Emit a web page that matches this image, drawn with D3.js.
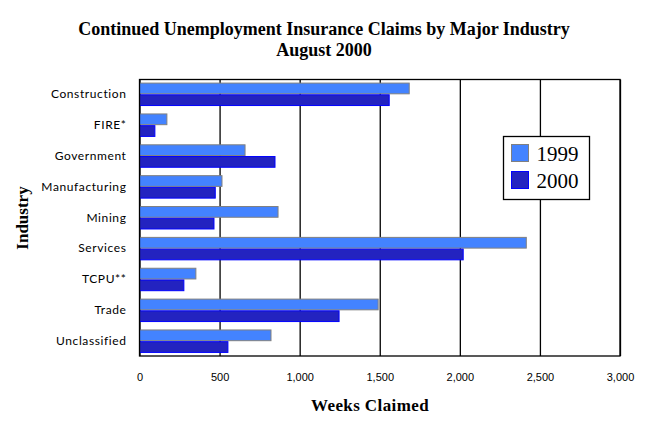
<!DOCTYPE html>
<html>
<head>
<meta charset="utf-8">
<script src="https://cdn.jsdelivr.net/npm/d3@7"></script>
<style>
  html, body { margin: 0; padding: 0; background: #fff; }
  svg { display: block; }
</style>
</head>
<body>
<svg id="chart" width="650" height="443"></svg>
<script>
const categories = ["Construction", "FIRE*", "Government", "Manufacturing", "Mining", "Services", "TCPU**", "Trade", "Unclassified"];
const series = ["1999", "2000"];
const values1999 = [1684, 171, 659, 515, 865, 2415, 352, 1490, 821];
const values2000 = [1559, 96, 846, 473, 465, 2021, 277, 1246, 552];
const xTicks = [0, 500, 1000, 1500, 2000, 2500, 3000];
const titleLines = ["Continued Unemployment Insurance Claims by Major Industry", "August 2000"];
const xTitle = "Weeks Claimed";
const yTitle = "Industry";

const fills = {"1999": "#4383FF", "2000": "#2323C0"};
const strokes = {"1999": "#808080", "2000": "#0000FF"};

const svg = d3.select("#chart");
const m = {left: 139.5, right: 620, top: 79.5, bottom: 356};

const x = d3.scaleLinear().domain([0, 3000]).range([m.left, m.right]);
const y = d3.scaleBand().domain(categories).range([m.top, m.bottom]).paddingInner(0.24).paddingOuter(0.1);
const ySub = d3.scaleBand().domain(series).range([0, y.bandwidth()]);

const data = categories.map((c, i) => ({cat: c, vals: {"1999": values1999[i], "2000": values2000[i]}}));

// gridlines
svg.append("g")
  .attr("transform", `translate(0,${m.bottom})`)
  .call(d3.axisBottom(x).tickValues(xTicks).tickSize(-(m.bottom - m.top)).tickFormat(""))
  .call(g => g.select(".domain").remove())
  .call(g => g.selectAll("line").attr("stroke", "#000").attr("stroke-width", 1.3));

// bars
const groups = svg.append("g").selectAll("g").data(data).join("g")
  .attr("transform", d => `translate(0,${y(d.cat)})`);
groups.selectAll("rect").data(d => series.map(s => ({s, v: d.vals[s]}))).join("rect")
  .attr("x", x(0))
  .attr("y", d => ySub(d.s) + 0.5)
  .attr("width", d => x(d.v) - x(0))
  .attr("height", ySub.bandwidth() - 1)
  .attr("fill", d => fills[d.s])
  .attr("stroke", d => strokes[d.s])
  .attr("stroke-width", 1);

// plot border
svg.append("rect")
  .attr("x", m.left).attr("y", m.top)
  .attr("width", m.right - m.left).attr("height", m.bottom - m.top)
  .attr("fill", "none").attr("stroke", "#000").attr("stroke-width", 1.3);

// x tick labels
svg.append("g")
  .attr("transform", `translate(0,${m.bottom})`)
  .call(d3.axisBottom(x).tickValues(xTicks).tickSize(0).tickPadding(17).tickFormat(d3.format(",")))
  .call(g => g.select(".domain").remove())
  .call(g => g.selectAll("text").attr("font-family", "'Liberation Sans', Arial, sans-serif").attr("font-size", 11).attr("fill", "#000"));

// y category labels
svg.append("g")
  .attr("transform", `translate(${m.left},0)`)
  .call(d3.axisLeft(y).tickSize(0).tickPadding(13))
  .call(g => g.select(".domain").remove())
  .call(g => g.selectAll("text").attr("font-family", "Lato, 'Open Sans', sans-serif").attr("font-size", 12).attr("letter-spacing", 0.6).attr("fill", "#000"));

// titles
svg.append("text").attr("x", 324).attr("y", 35).attr("text-anchor", "middle")
  .attr("font-family", "'Liberation Serif', 'Times New Roman', serif").attr("font-weight", "bold").attr("font-size", 18)
  .text(titleLines[0]);
svg.append("text").attr("x", 324).attr("y", 56).attr("text-anchor", "middle")
  .attr("font-family", "'Liberation Serif', 'Times New Roman', serif").attr("font-weight", "bold").attr("font-size", 18)
  .text(titleLines[1]);

svg.append("text").attr("x", 370).attr("y", 411).attr("text-anchor", "middle")
  .attr("font-family", "'Liberation Serif', 'Times New Roman', serif").attr("font-weight", "bold").attr("font-size", 17)
  .attr("letter-spacing", 0.4)
  .text(xTitle);

svg.append("text").attr("transform", "translate(28,218) rotate(-90)").attr("text-anchor", "middle")
  .attr("font-family", "'Liberation Serif', 'Times New Roman', serif").attr("font-weight", "bold").attr("font-size", 17)
  .text(yTitle);

// legend
const lg = svg.append("g").attr("transform", "translate(503.5,136.5)");
lg.append("rect").attr("width", 86).attr("height", 63).attr("fill", "#fff").attr("stroke", "#000").attr("stroke-width", 1.3);
series.forEach((s, i) => {
  lg.append("rect").attr("x", 8).attr("y", 8 + i * 27).attr("width", 17).attr("height", 17)
    .attr("fill", fills[s]).attr("stroke", strokes[s]).attr("stroke-width", 1);
  lg.append("text").attr("x", 33).attr("y", 24 + i * 27)
    .attr("font-family", "'Liberation Serif', 'Times New Roman', serif").attr("font-size", 21)
    .text(s);
});
</script>
</body>
</html>
